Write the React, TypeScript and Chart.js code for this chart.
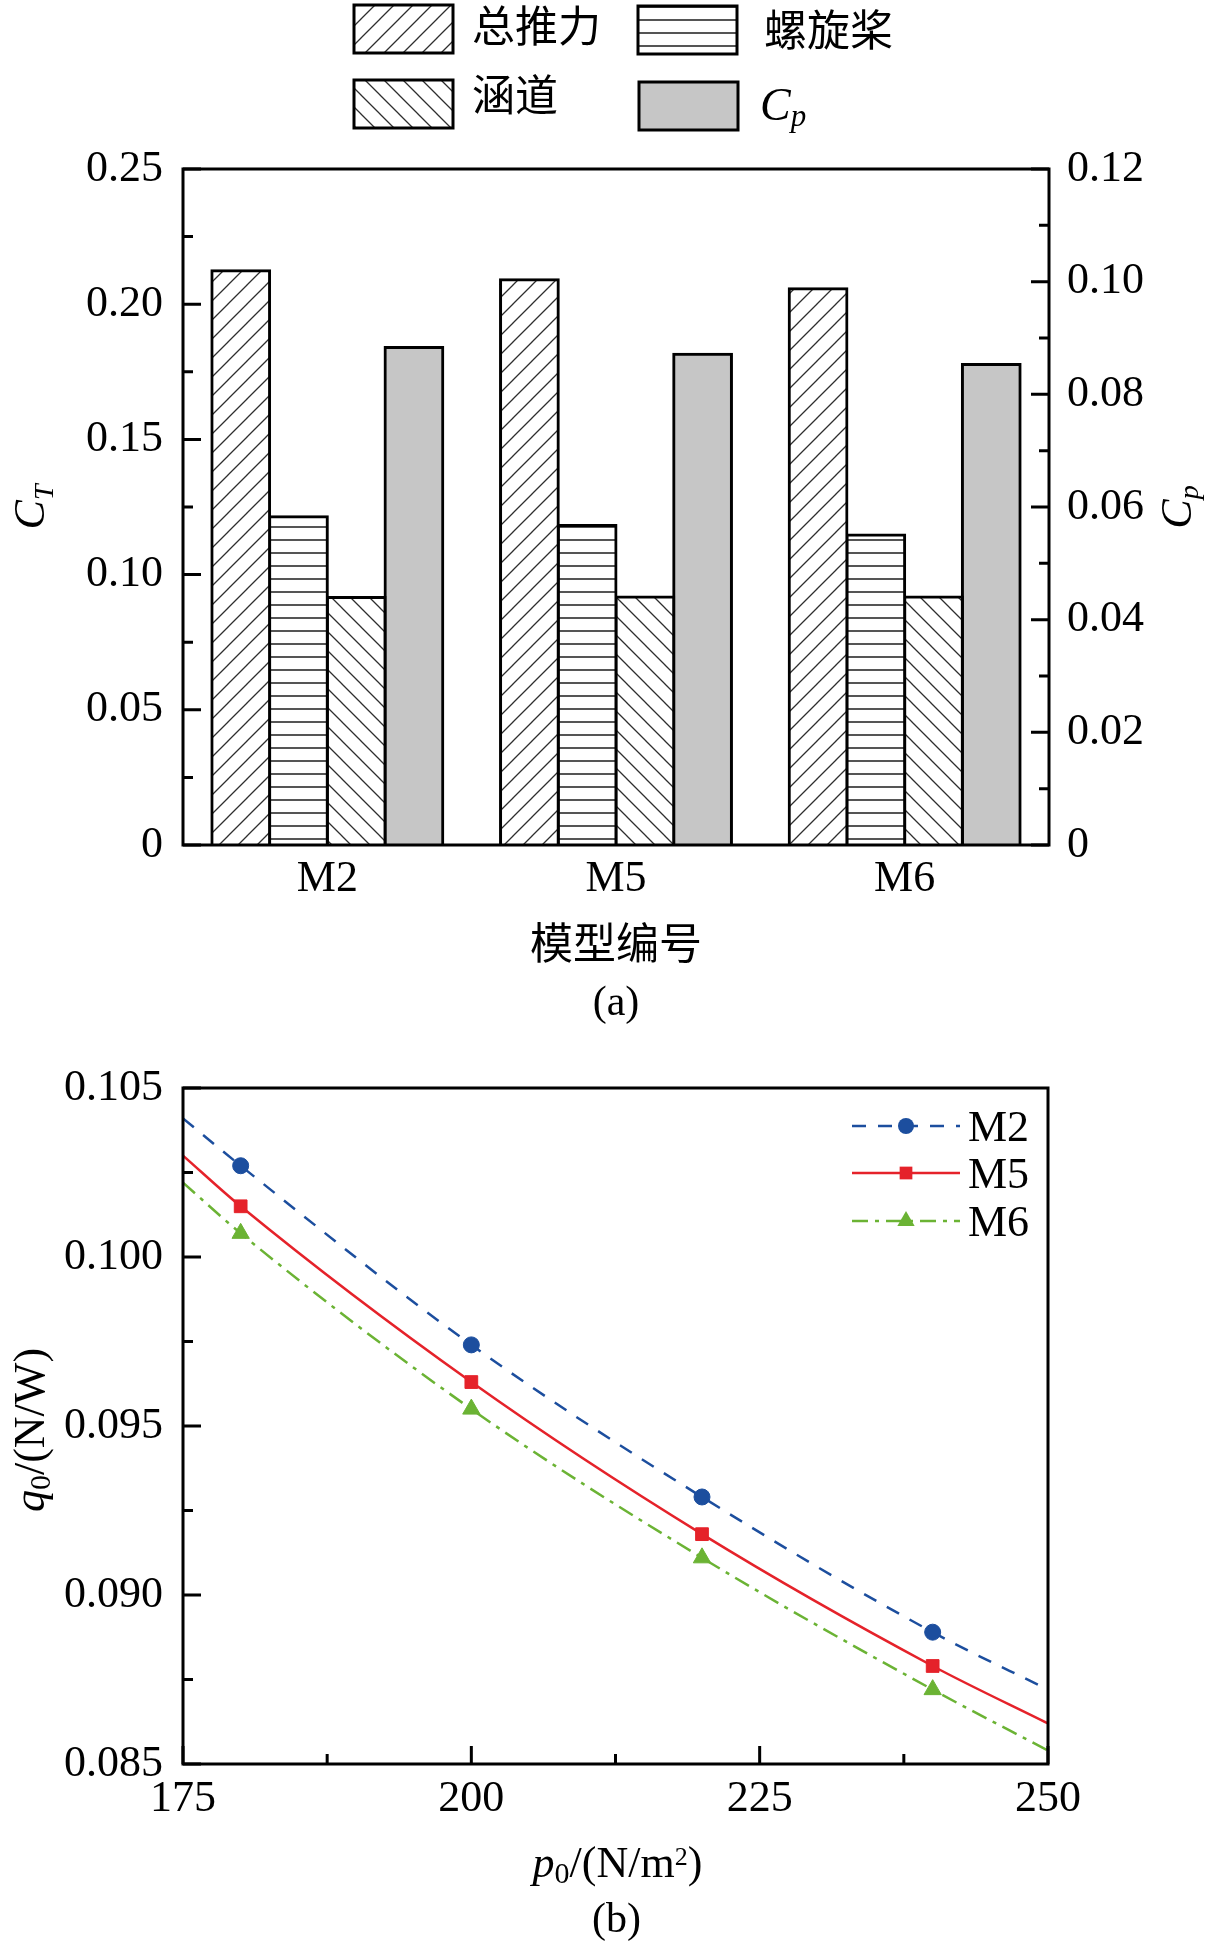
import React, { useEffect, useRef } from 'react';
import { Chart, registerables } from 'chart.js';

Chart.register(...registerables);

const SERIF = "'Liberation Serif', 'Times New Roman', serif";
const CJK = "'Noto Sans CJK SC', 'Noto Sans', sans-serif";

// ---------- (a) bar chart data ----------
const categories = ['M2', 'M5', 'M6'];
const totalThrust = [0.2124, 0.209, 0.2057];
const propellerThrust = [0.1214, 0.1182, 0.1146];
const ductThrust = [0.0915, 0.0917, 0.0917];
const powerCoeff = [0.0883, 0.0871, 0.0853];
const barSeriesNames = ['总推力', '螺旋桨', '涵道', 'Cp'];

const ctTicks = [0, 0.05, 0.1, 0.15, 0.2, 0.25];
const ctTickLabels = ['0', '0.05', '0.10', '0.15', '0.20', '0.25'];
const cpTicks = [0, 0.02, 0.04, 0.06, 0.08, 0.1, 0.12];
const cpTickLabels = ['0', '0.02', '0.04', '0.06', '0.08', '0.10', '0.12'];

// ---------- (b) line chart data ----------
const pressure = [175, 180, 200, 220, 240, 250];
const markerAt = [0, 1, 1, 1, 1, 0];
const q0M2 = [0.1041, 0.1027, 0.0974, 0.0929, 0.0889, 0.0872];
const q0M5 = [0.103, 0.1015, 0.0963, 0.0918, 0.0879, 0.0862];
const q0M6 = [0.1022, 0.1007, 0.0955, 0.0911, 0.0872, 0.0854];
const lineSeriesNames = ['M2', 'M5', 'M6'];

const pressureTicks = [175, 200, 225, 250];
const pressureTickLabels = ['175', '200', '225', '250'];
const q0Ticks = [0.085, 0.09, 0.095, 0.1, 0.105];
const q0TickLabels = ['0.085', '0.090', '0.095', '0.100', '0.105'];

const BLUE = '#1C4E9E';
const RED = '#E5222A';
const GREEN = '#6BB334';
const GRAY = '#c6c6c6';

type Seg = { t: string; font: string; dy?: number };

function drawRich(ctx: CanvasRenderingContext2D, segs: Seg[], x: number, y: number, align: 'left' | 'center' = 'center', rot = 0) {
  ctx.save();
  ctx.translate(x, y);
  if (rot) ctx.rotate(rot);
  ctx.textBaseline = 'alphabetic';
  ctx.textAlign = 'left';
  ctx.fillStyle = '#000';
  let total = 0;
  const widths = segs.map((s) => {
    ctx.font = s.font;
    const w = ctx.measureText(s.t).width;
    total += w;
    return w;
  });
  let cx = align === 'center' ? -total / 2 : 0;
  segs.forEach((s, i) => {
    ctx.font = s.font;
    ctx.fillText(s.t, cx, s.dy || 0);
    cx += widths[i];
  });
  ctx.restore();
}

function makePattern(ctx: CanvasRenderingContext2D, kind: 'slash' | 'back' | 'h') {
  const c = document.createElement('canvas');
  const s = 19;
  if (kind === 'h') {
    c.width = 8;
    c.height = 13;
  } else {
    c.width = s;
    c.height = s;
  }
  const g = c.getContext('2d') as CanvasRenderingContext2D;
  g.fillStyle = '#fff';
  g.fillRect(0, 0, c.width, c.height);
  g.beginPath();
  if (kind === 'slash') {
    g.strokeStyle = '#2e2e2e';
    g.lineWidth = 1.3;
    g.moveTo(-2, s + 2);
    g.lineTo(s + 2, -2);
    g.moveTo(-2, 2);
    g.lineTo(2, -2);
    g.moveTo(s - 2, s + 2);
    g.lineTo(s + 2, s - 2);
  } else if (kind === 'back') {
    g.strokeStyle = '#2e2e2e';
    g.lineWidth = 1.3;
    g.moveTo(-2, -2);
    g.lineTo(s + 2, s + 2);
    g.moveTo(s - 2, -2);
    g.lineTo(s + 2, 2);
    g.moveTo(-2, s - 2);
    g.lineTo(2, s + 2);
  } else {
    g.strokeStyle = '#555';
    g.lineWidth = 2;
    g.moveTo(0, 7);
    g.lineTo(8, 7);
  }
  g.stroke();
  return ctx.createPattern(c, 'repeat') as CanvasPattern;
}

type TickSpec = { id: string; side: 'left' | 'right' | 'bottom' };

function makeFramePlugin(specs: TickSpec[]) {
  return {
    id: 'frameTicks',
    afterDraw(chart: any) {
      const ctx: CanvasRenderingContext2D = chart.ctx;
      const a = chart.chartArea;
      ctx.save();
      ctx.strokeStyle = '#000';
      ctx.lineWidth = 3;
      ctx.lineCap = 'butt';
      for (const sp of specs) {
        const scale = chart.scales[sp.id];
        const vals: number[] = scale.ticks.map((t: any) => t.value);
        const items: { v: number; len: number }[] = vals.map((v) => ({ v, len: 18 }));
        for (let i = 0; i < vals.length - 1; i++) items.push({ v: (vals[i] + vals[i + 1]) / 2, len: 10 });
        ctx.beginPath();
        for (const it of items) {
          const p = scale.getPixelForValue(it.v);
          if (sp.side === 'left') {
            ctx.moveTo(a.left, p);
            ctx.lineTo(a.left + it.len, p);
          } else if (sp.side === 'right') {
            ctx.moveTo(a.right, p);
            ctx.lineTo(a.right - it.len, p);
          } else {
            ctx.moveTo(p, a.bottom);
            ctx.lineTo(p, a.bottom - it.len);
          }
        }
        ctx.stroke();
      }
      ctx.strokeRect(a.left, a.top, a.right - a.left, a.bottom - a.top);
      ctx.restore();
    },
  };
}

function drawMarker(ctx: CanvasRenderingContext2D, style: string, x: number, y: number, r: number, color: string) {
  ctx.save();
  ctx.fillStyle = color;
  ctx.beginPath();
  if (style === 'circle') {
    ctx.arc(x, y, r, 0, Math.PI * 2);
  } else if (style === 'rect') {
    const s = r * Math.SQRT2;
    ctx.rect(x - s / 2, y - s / 2, s, s);
  } else {
    ctx.moveTo(x, y - r);
    ctx.lineTo(x + 0.866 * r, y + 0.5 * r);
    ctx.lineTo(x - 0.866 * r, y + 0.5 * r);
    ctx.closePath();
  }
  ctx.fill();
  ctx.restore();
}

const tickFont = { family: SERIF, size: 44, lineHeight: 1.2 };

export default function App() {
  const refA = useRef<HTMLCanvasElement>(null);
  const refB = useRef<HTMLCanvasElement>(null);

  useEffect(() => {
    const canvasA = refA.current as HTMLCanvasElement;
    const canvasB = refB.current as HTMLCanvasElement;
    const ctxA = canvasA.getContext('2d') as CanvasRenderingContext2D;
    const pSlash = makePattern(ctxA, 'slash');
    const pBack = makePattern(ctxA, 'back');
    const pH = makePattern(ctxA, 'h');
    const fills = [pSlash, pH, pBack, GRAY];
    const barData = [totalThrust, propellerThrust, ductThrust, powerCoeff];

    const barLegendPlugin = {
      id: 'barLegend',
      afterDraw(chart: any) {
        const ctx: CanvasRenderingContext2D = chart.ctx;
        const boxes = [
          [354, 5],
          [638, 6],
          [354, 80],
          [639, 82],
        ];
        boxes.forEach((b, i) => {
          ctx.save();
          ctx.fillStyle = fills[i] as any;
          ctx.fillRect(b[0], b[1], 99, 48);
          ctx.strokeStyle = '#000';
          ctx.lineWidth = 3;
          ctx.strokeRect(b[0], b[1], 99, 48);
          ctx.restore();
        });
        drawRich(ctx, [{ t: barSeriesNames[0], font: `43px ${CJK}` }], 472, 42, 'left');
        drawRich(ctx, [{ t: barSeriesNames[1], font: `43px ${CJK}` }], 764, 46, 'left');
        drawRich(ctx, [{ t: barSeriesNames[2], font: `43px ${CJK}` }], 472, 111, 'left');
        drawRich(
          ctx,
          [
            { t: 'C', font: `italic 46px ${SERIF}` },
            { t: 'p', font: `italic 31px ${SERIF}`, dy: 6 },
          ],
          760,
          120,
          'left'
        );
        // axis titles
        const a = chart.chartArea;
        const midY = (a.top + a.bottom) / 2;
        const midX = (a.left + a.right) / 2;
        drawRich(
          ctx,
          [
            { t: 'C', font: `italic 44px ${SERIF}` },
            { t: 'T', font: `italic 28px ${SERIF}`, dy: 9 },
          ],
          44,
          midY,
          'center',
          -Math.PI / 2
        );
        drawRich(
          ctx,
          [
            { t: 'C', font: `italic 44px ${SERIF}` },
            { t: 'p', font: `italic 28px ${SERIF}`, dy: 7 },
          ],
          1191,
          midY,
          'center',
          -Math.PI / 2
        );
        drawRich(ctx, [{ t: '模型编号', font: `43px ${CJK}` }], midX, 959, 'center');
        drawRich(ctx, [{ t: '(a)', font: `42px ${SERIF}` }], midX, 1015, 'center');
      },
    };

    const chartA = new Chart(canvasA, {
      type: 'bar',
      data: {
        labels: categories,
        datasets: barData.map((d, i) => ({
          label: barSeriesNames[i],
          data: d,
          backgroundColor: fills[i] as any,
          borderColor: '#000',
          borderWidth: 3,
          inflateAmount: 1.5,
          yAxisID: i === 3 ? 'y1' : 'y',
          categoryPercentage: 0.8,
          barPercentage: 1.0,
        })),
      },
      options: {
        animation: false,
        responsive: false,
        devicePixelRatio: 1,
        layout: { padding: { top: 169, left: 0, right: 0, bottom: 0 } },
        plugins: { legend: { display: false }, tooltip: { enabled: false } },
        scales: {
          x: {
            grid: { display: false, drawTicks: false },
            border: { display: false },
            ticks: { font: tickFont, color: '#000', padding: 8 },
            afterFit: (s: any) => {
              s.height = 195;
            },
          },
          y: {
            position: 'left',
            min: 0,
            max: 0.25,
            grid: { display: false, drawTicks: false },
            border: { display: false },
            ticks: { font: tickFont, color: '#000', padding: 20, callback: (_v: any, i: number) => ctTickLabels[i] },
            afterBuildTicks: (s: any) => {
              s.ticks = ctTicks.map((v) => ({ value: v }));
            },
            afterFit: (s: any) => {
              s.width = 183;
            },
          },
          y1: {
            position: 'right',
            min: 0,
            max: 0.12,
            grid: { display: false, drawTicks: false },
            border: { display: false },
            ticks: { font: tickFont, color: '#000', padding: 18, callback: (_v: any, i: number) => cpTickLabels[i] },
            afterBuildTicks: (s: any) => {
              s.ticks = cpTicks.map((v) => ({ value: v }));
            },
            afterFit: (s: any) => {
              s.width = 164;
            },
          },
        },
      } as any,
      plugins: [
        makeFramePlugin([
          { id: 'y', side: 'left' },
          { id: 'y1', side: 'right' },
        ]),
        barLegendPlugin,
      ],
    });

    // ---------- chart (b) ----------
    const series = [q0M2, q0M5, q0M6];
    const colors = [BLUE, RED, GREEN];
    const dashes = [[14, 12], [], [16, 7, 4, 7]];
    const styles = ['circle', 'rect', 'triangle'];
    const radii = [8, 9, 10];

    const lineLegendPlugin = {
      id: 'lineLegend',
      afterDraw(chart: any) {
        const ctx: CanvasRenderingContext2D = chart.ctx;
        const rows = [86, 133, 181];
        rows.forEach((y, i) => {
          ctx.save();
          ctx.strokeStyle = colors[i];
          ctx.lineWidth = 2.5;
          ctx.setLineDash(dashes[i]);
          ctx.beginPath();
          ctx.moveTo(852, y);
          ctx.lineTo(960, y);
          ctx.stroke();
          ctx.restore();
          drawMarker(ctx, styles[i], 906, y, radii[i], colors[i]);
          drawRich(ctx, [{ t: lineSeriesNames[i], font: `44px ${SERIF}` }], 968, y + 15, 'left');
        });
        const a = chart.chartArea;
        const midY = (a.top + a.bottom) / 2;
        const midX = (a.left + a.right) / 2;
        drawRich(
          ctx,
          [
            { t: 'q', font: `italic 44px ${SERIF}` },
            { t: '0', font: `30px ${SERIF}`, dy: 6 },
            { t: '/(N/W)', font: `44px ${SERIF}` },
          ],
          44,
          midY + 4,
          'center',
          -Math.PI / 2
        );
        drawRich(
          ctx,
          [
            { t: 'p', font: `italic 44px ${SERIF}` },
            { t: '0', font: `30px ${SERIF}`, dy: 6 },
            { t: '/(N/m', font: `44px ${SERIF}` },
            { t: '2', font: `26px ${SERIF}`, dy: -12 },
            { t: ')', font: `44px ${SERIF}` },
          ],
          midX + 2,
          837,
          'center'
        );
        drawRich(ctx, [{ t: '(b)', font: `42px ${SERIF}` }], midX + 1, 892, 'center');
      },
    };

    const chartB = new Chart(canvasB, {
      type: 'line',
      data: {
        datasets: series.map((s, i) => ({
          label: lineSeriesNames[i],
          data: pressure.map((x, j) => ({ x, y: s[j] })),
          borderColor: colors[i],
          backgroundColor: colors[i],
          borderWidth: 2.5,
          borderDash: dashes[i],
          pointStyle: styles[i],
          pointRadius: markerAt.map((m) => (m ? radii[i] : 0)),
          pointBackgroundColor: colors[i],
          pointBorderColor: colors[i],
          pointBorderWidth: 1,
          cubicInterpolationMode: 'monotone',
          fill: false,
        })),
      },
      options: {
        animation: false,
        responsive: false,
        devicePixelRatio: 1,
        layout: { padding: { top: 48, left: 0, right: 165, bottom: 0 } },
        plugins: { legend: { display: false }, tooltip: { enabled: false } },
        scales: {
          x: {
            type: 'linear',
            min: 175,
            max: 250,
            grid: { display: false, drawTicks: false },
            border: { display: false },
            ticks: { font: tickFont, color: '#000', padding: 9, callback: (_v: any, i: number) => pressureTickLabels[i] },
            afterBuildTicks: (s: any) => {
              s.ticks = pressureTicks.map((v) => ({ value: v }));
            },
            afterFit: (s: any) => {
              s.height = 184;
            },
          },
          y: {
            min: 0.085,
            max: 0.105,
            grid: { display: false, drawTicks: false },
            border: { display: false },
            ticks: { font: tickFont, color: '#000', padding: 20, callback: (_v: any, i: number) => q0TickLabels[i] },
            afterBuildTicks: (s: any) => {
              s.ticks = q0Ticks.map((v) => ({ value: v }));
            },
            afterFit: (s: any) => {
              s.width = 183;
            },
          },
        },
      } as any,
      plugins: [
        makeFramePlugin([
          { id: 'y', side: 'left' },
          { id: 'x', side: 'bottom' },
        ]),
        lineLegendPlugin,
      ],
    });

    return () => {
      chartA.destroy();
      chartB.destroy();
    };
  }, []);

  return (
    <div style={{ position: 'absolute', left: 0, top: 0, width: 1213, height: 1948, background: '#fff' }}>
      <canvas
        ref={refA}
        width={1213}
        height={1040}
        style={{ position: 'absolute', left: 0, top: 0, width: 1213, height: 1040 }}
      />
      <canvas
        ref={refB}
        width={1213}
        height={908}
        style={{ position: 'absolute', left: 0, top: 1040, width: 1213, height: 908 }}
      />
    </div>
  );
}
